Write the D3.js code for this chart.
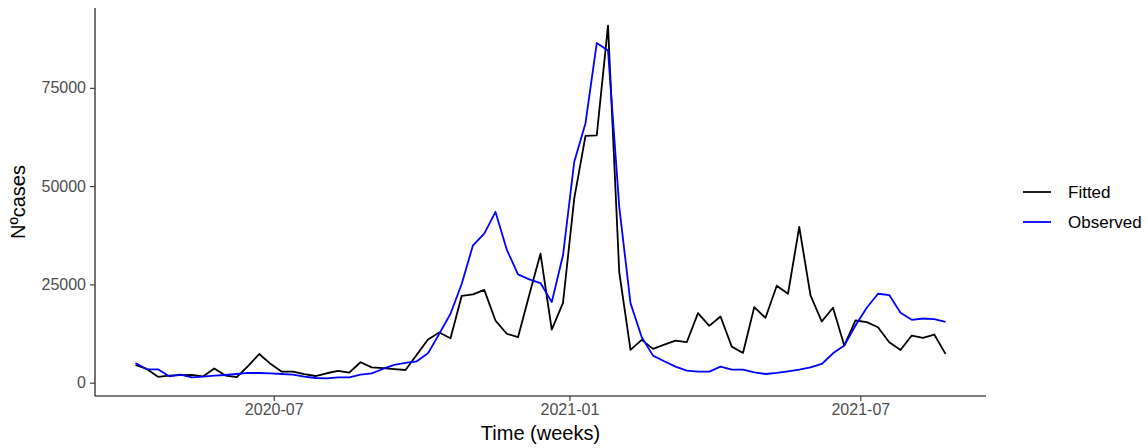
<!DOCTYPE html>
<html>
<head>
<meta charset="utf-8">
<script src="https://cdn.jsdelivr.net/npm/d3@7"></script>
<style>
  body { margin: 0; background: #fff; }
  svg text { font-family: "Liberation Sans", Arial, sans-serif; }
</style>
</head>
<body>
<div id="chart"></div>
<script>
// data (weekly, first week 2020-04-06)
const startDate = '2020-04-06'
const fitted = [4500, 3500, 1500, 1800, 1900, 2000, 1600, 3600, 1800, 1400,
  4200, 7300, 4800, 2800, 2800, 2200, 1700, 2400, 3000, 2550,
  5200, 3900, 3700, 3450, 3230, 7100, 11000, 12750, 11300, 22100,
  22450, 23600, 15800, 12450, 11570, 22300, 32830, 13520, 20300, 46860,
  62760, 62930, 90820, 28140, 8330, 10890, 8590, 9690, 10710, 10290,
  17680, 14460, 16840, 9180, 7570, 19220, 16500, 24670, 22620, 39620,
  22200, 15560, 19050, 9440, 15820, 15390, 14110, 10290, 8330, 11990,
  11400, 12250, 7320]
const observed = [5020, 3400, 3400, 1620, 2040, 1360, 1530, 1790, 1960, 2210,
  2470, 2470, 2380, 2210, 2040, 1530, 1190, 1100, 1360, 1360,
  2040, 2380, 3490, 4510, 5020, 5440, 7480, 12420, 17520, 25180,
  34950, 37930, 43440, 33850, 27550, 26280, 25340, 20490, 32400, 56200,
  66000, 86400, 84520, 44720, 20240, 11570, 6890, 5440, 4080, 3060,
  2800, 2800, 4080, 3320, 3320, 2640, 2210, 2470, 2890, 3320,
  3910, 4760, 7480, 9440, 14540, 19050, 22620, 22280, 17770, 15990,
  16330, 16160, 15480]
const seriesNames = ['Fitted', 'Observed']
const seriesColors = ['#000000', '#0000ff']
const xTicks = ['2020-07-01', '2021-01-01', '2021-07-01']
const yTicks = [0, 25000, 50000, 75000]

const width = 1148
const height = 448
const margin = { top: 8, right: 162, bottom: 52, left: 95 }

const parse = d3.utcParse('%Y-%m-%d')
const start = parse(startDate)
const dates = fitted.map((d, i) => d3.utcDay.offset(start, 7 * i))
const series = [fitted, observed].map((vals, k) => ({
  name: seriesNames[k],
  color: seriesColors[k],
  values: vals.map((v, i) => ({ date: dates[i], value: v }))
}))

const svg = d3.select('#chart').append('svg')
  .attr('width', width)
  .attr('height', height)

// ggplot style 5% expansion
const xExt = d3.extent(dates)
const xPad = (xExt[1] - xExt[0]) * 0.05
const x = d3.scaleUtc()
  .domain([new Date(+xExt[0] - xPad), new Date(+xExt[1] + xPad)])
  .range([margin.left, width - margin.right])

const allVals = fitted.concat(observed)
const yExt = d3.extent(allVals)
const yPad = (yExt[1] - yExt[0]) * 0.05
const y = d3.scaleLinear()
  .domain([yExt[0] - yPad, yExt[1] + yPad])
  .range([height - margin.bottom, margin.top])

// axes
const xAxis = svg.append('g')
  .attr('transform', `translate(0,${height - margin.bottom})`)
  .call(d3.axisBottom(x).tickValues(xTicks.map(parse)).tickFormat(d3.utcFormat('%Y-%m')).tickSize(5).tickPadding(3))
const yAxis = svg.append('g')
  .attr('transform', `translate(${margin.left},0)`)
  .call(d3.axisLeft(y).tickValues(yTicks).tickFormat(d3.format('d')).tickSize(5).tickPadding(4))

;[xAxis, yAxis].forEach(a => {
  a.select('.domain').attr('stroke', '#000').attr('stroke-width', 1.1)
    .attr('d', a === xAxis
      ? `M${margin.left},0H${width - margin.right}`
      : `M0,${margin.top}V${height - margin.bottom}`)
  a.selectAll('.tick line').attr('stroke', '#333').attr('stroke-width', 1.1)
  a.selectAll('.tick text').attr('fill', '#4d4d4d').style('font-size', '16px')
})

// lines
const line = d3.line()
  .x(d => x(d.date))
  .y(d => y(d.value))

svg.append('g').selectAll('path')
  .data(series)
  .join('path')
  .attr('d', d => line(d.values))
  .attr('fill', 'none')
  .attr('stroke', d => d.color)
  .attr('stroke-width', 1.8)
  .attr('stroke-linejoin', 'round')

// axis titles
svg.append('text')
  .attr('x', (margin.left + width - margin.right) / 2)
  .attr('y', 440)
  .attr('text-anchor', 'middle')
  .style('font-size', '20px')
  .text('Time (weeks)')

svg.append('text')
  .attr('transform', `translate(25,${(margin.top + height - margin.bottom) / 2})rotate(-90)`)
  .attr('text-anchor', 'middle')
  .style('font-size', '20px')
  .text('Nºcases')

// legend
const legend = svg.append('g').attr('transform', 'translate(1023,192)')
const item = legend.selectAll('g')
  .data(series)
  .join('g')
  .attr('transform', (d, i) => `translate(0,${i * 30})`)
item.append('line')
  .attr('x1', 0).attr('x2', 28)
  .attr('stroke', d => d.color)
  .attr('stroke-width', 1.8)
item.append('text')
  .attr('x', 45)
  .attr('dy', '0.35em')
  .style('font-size', '17px')
  .text(d => d.name)
</script>
</body>
</html>
